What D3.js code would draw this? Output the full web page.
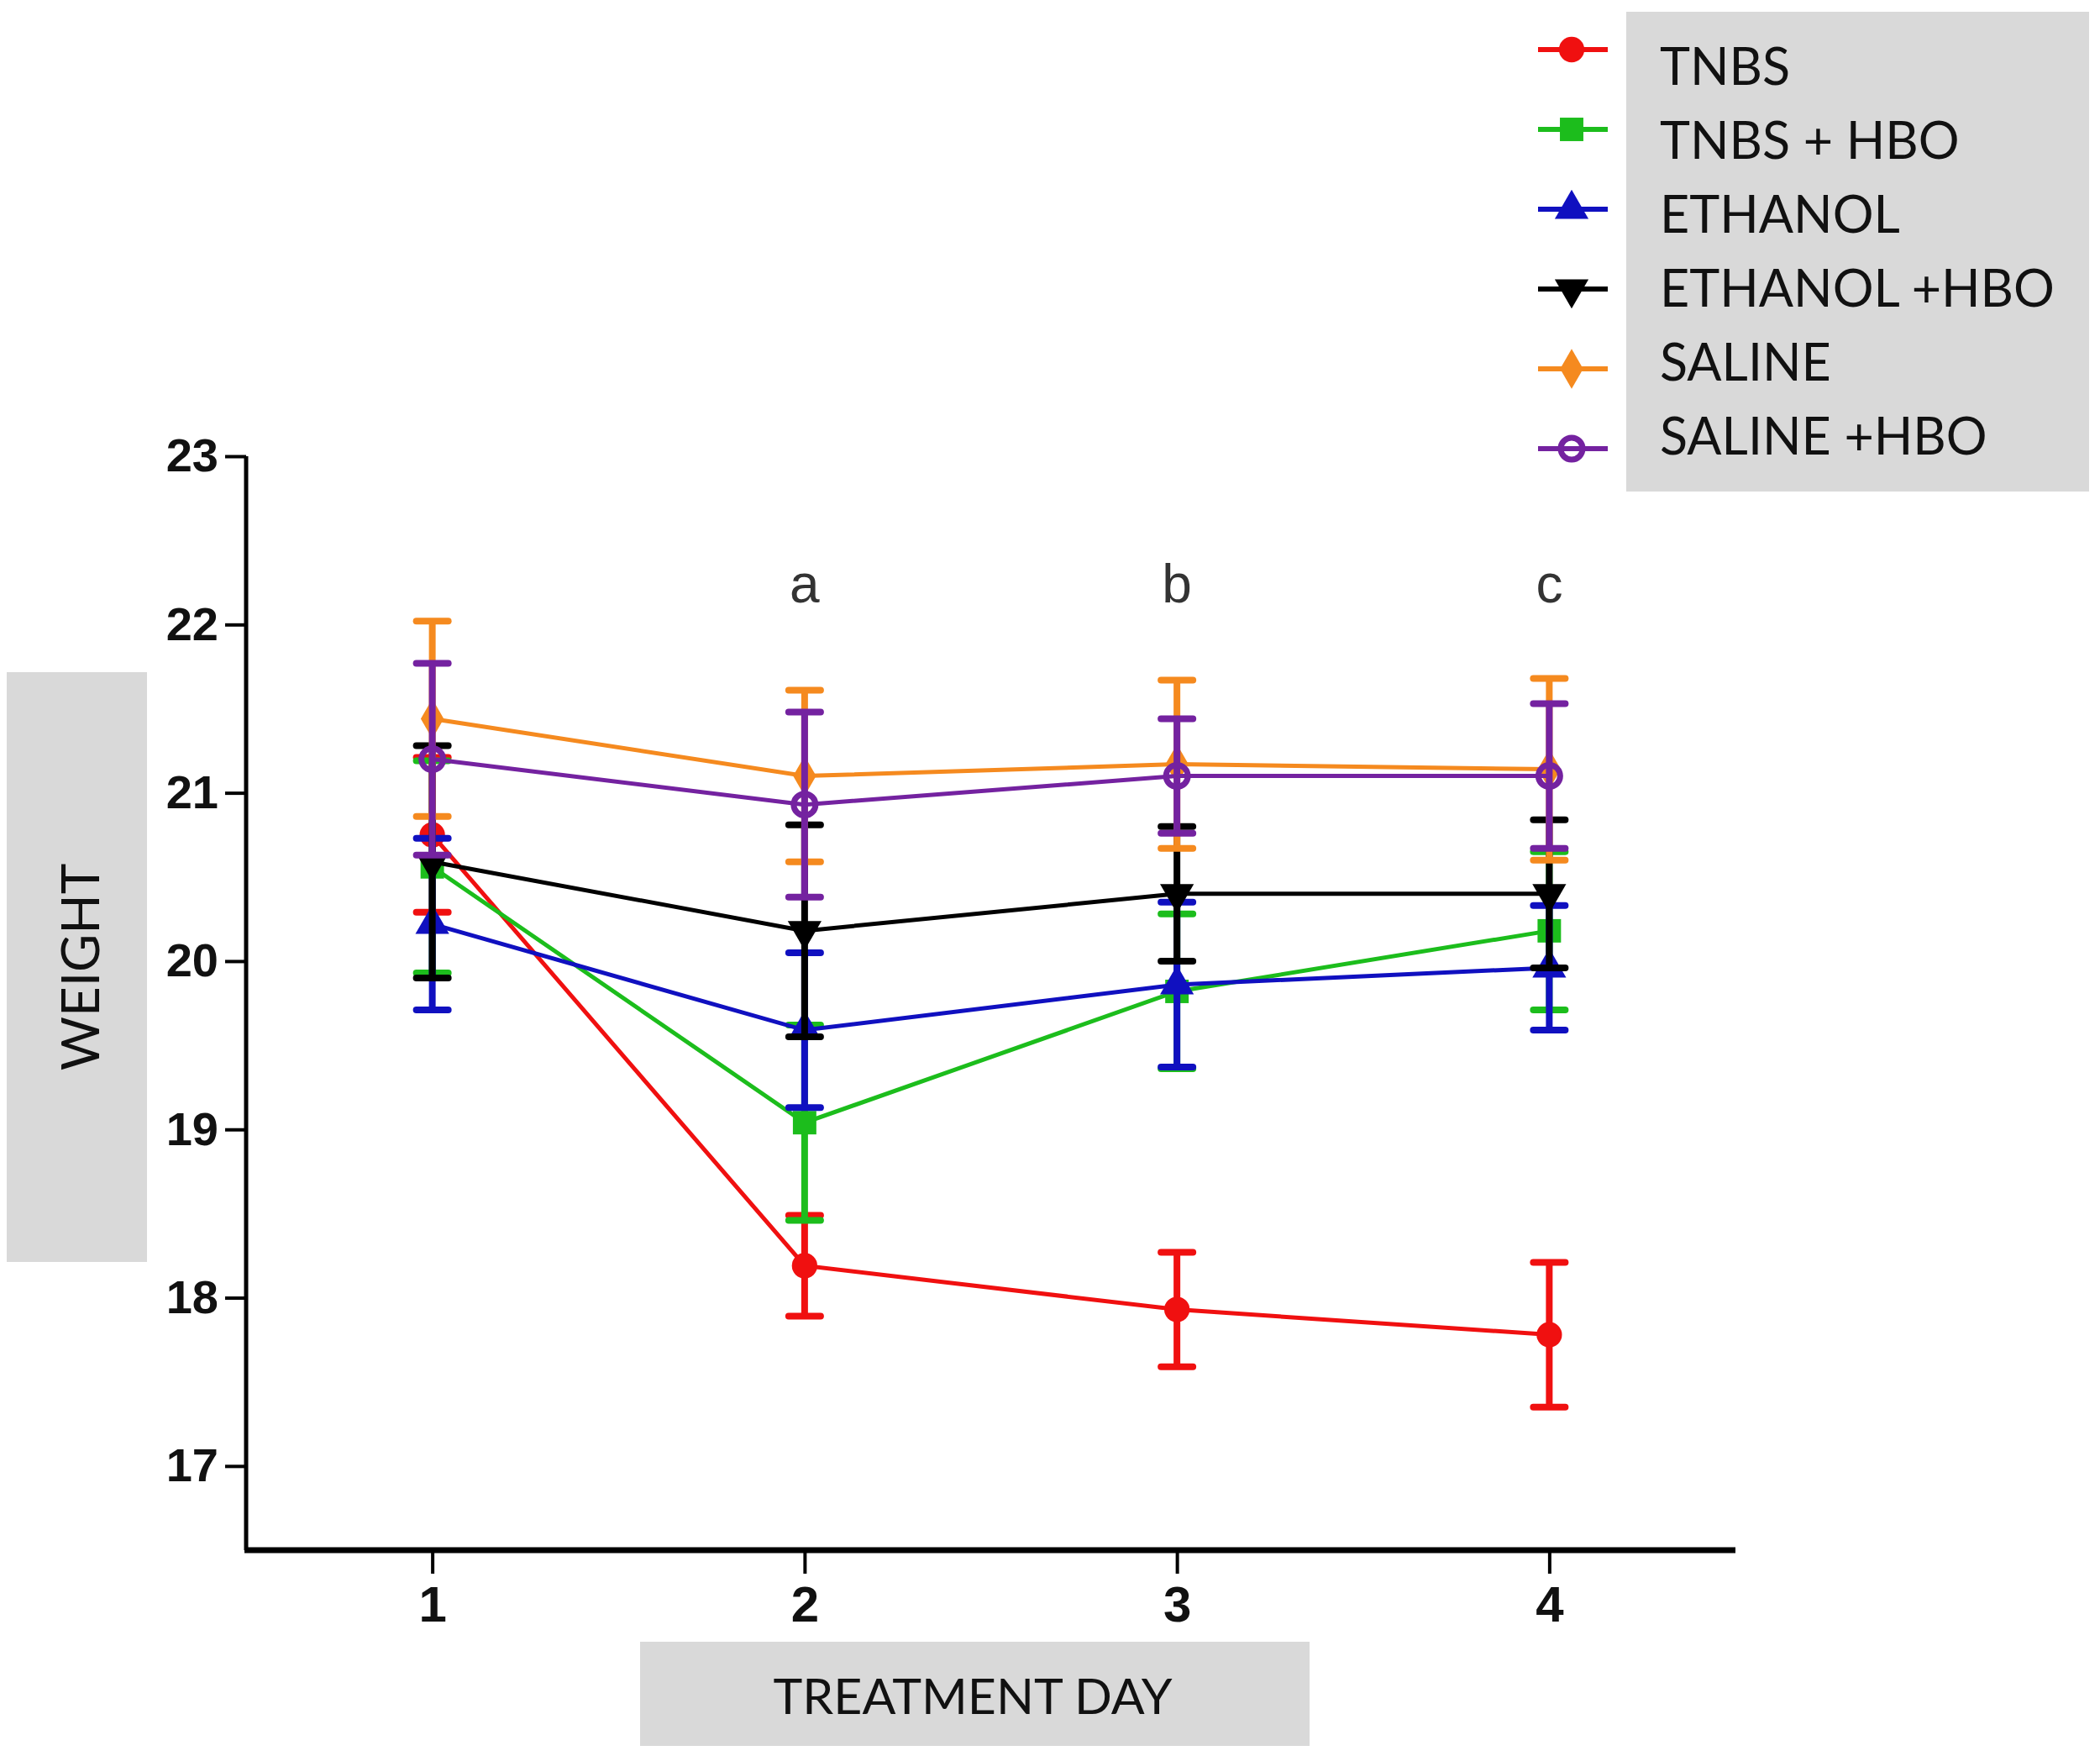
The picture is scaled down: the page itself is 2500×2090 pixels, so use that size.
<!DOCTYPE html>
<html><head><meta charset="utf-8">
<script src="https://cdn.jsdelivr.net/npm/d3@7"></script>
<style>html,body{margin:0;padding:0;background:#fff}</style>
</head><body>
<svg id="c" width="2500" height="2090"></svg>
<script>
const days = [1, 2, 3, 4];
const dayTicks = ["1", "2", "3", "4"];
const weightTicks = [17, 18, 19, 20, 21, 22, 23];
const seriesNames = ["TNBS", "TNBS + HBO", "ETHANOL", "ETHANOL +HBO", "SALINE", "SALINE +HBO"];
const tnbs        = [20.75, 18.19, 17.93, 17.78];
const tnbsErr     = [0.46, 0.30, 0.34, 0.43];
const tnbsHbo     = [20.56, 19.04, 19.82, 20.18];
const tnbsHboErr  = [0.63, 0.58, 0.46, 0.47];
const ethanol     = [20.22, 19.59, 19.86, 19.96];
const ethanolErr  = [0.51, 0.46, 0.49, 0.37];
const ethanolHbo  = [20.59, 20.18, 20.40, 20.40];
const ethanolHboErr = [0.69, 0.63, 0.40, 0.44];
const saline      = [21.44, 21.10, 21.17, 21.14];
const salineErr   = [0.58, 0.51, 0.50, 0.54];
const salineHbo   = [21.20, 20.93, 21.10, 21.10];
const salineHboErr = [0.57, 0.55, 0.34, 0.43];
const sigLetters  = ["", "a", "b", "c"];

const colors = ["#f01010", "#1cbd1c", "#1010c0", "#000000", "#f58a1f", "#7422a0"];
const shapes = ["circle", "square", "triUp", "triDown", "diamond", "openCircle"];
const values = [tnbs, tnbsHbo, ethanol, ethanolHbo, saline, salineHbo];
const errors = [tnbsErr, tnbsHboErr, ethanolErr, ethanolHboErr, salineErr, salineHboErr];

const series = seriesNames.map((n, i) => ({
  name: n, color: colors[i], shape: shapes[i],
  pts: days.map((d, j) => ({ day: d, v: values[i][j], e: errors[i][j] }))
}));

const svg = d3.select("#c");
const x = d3.scaleLinear().domain([0.5, 4.5]).range([293, 2066]);
const y = d3.scaleLinear().domain([16.5, 23]).range([1845, 543]);

// axis title boxes
svg.append("rect").attr("x", 8).attr("y", 800).attr("width", 167).attr("height", 702).attr("fill", "#d9d9d9");
svg.append("text").attr("transform", "translate(118,1151) rotate(-90)")
  .attr("text-anchor", "middle").attr("font-family", "Lato, 'Open Sans', sans-serif")
  .attr("font-size", 62).attr("fill", "#111").text("WEIGHT");
svg.append("rect").attr("x", 762).attr("y", 1954).attr("width", 797).attr("height", 124).attr("fill", "#d9d9d9");
svg.append("text").attr("x", 1158).attr("y", 2040)
  .attr("text-anchor", "middle").attr("font-family", "Lato, 'Open Sans', sans-serif")
  .attr("font-size", 59).attr("fill", "#111").text("TREATMENT DAY");

// axes
const yAxis = d3.axisLeft(y).tickValues(weightTicks).tickFormat(d3.format("d")).tickSize(25).tickPadding(8);
const gy = svg.append("g").attr("transform", "translate(293,0)").call(yAxis);
gy.select(".domain").attr("d", `M0,${y(23)}V${y(16.5)}`).attr("stroke", "#000").attr("stroke-width", 5);
gy.selectAll(".tick line").attr("stroke", "#000").attr("stroke-width", 4);
gy.selectAll(".tick text").attr("font-family", "'Liberation Sans', Arial, sans-serif")
  .attr("font-weight", "bold").attr("font-size", 56).attr("fill", "#111");

const xAxis = d3.axisBottom(x).tickValues(days).tickFormat((d, i) => dayTicks[i]).tickSize(28).tickPadding(14);
const gx = svg.append("g").attr("transform", "translate(0,1845)").call(xAxis);
gx.select(".domain").attr("d", `M${x(0.5) - 2},0H${x(4.5)}`).attr("stroke", "#000").attr("stroke-width", 7);
gx.selectAll(".tick line").attr("stroke", "#000").attr("stroke-width", 4);
gx.selectAll(".tick text").attr("font-family", "'Liberation Sans', Arial, sans-serif")
  .attr("font-weight", "bold").attr("font-size", 60).attr("fill", "#111");

// significance letters
svg.append("g").selectAll("text").data(days).join("text")
  .attr("x", d => x(d)).attr("y", 717).attr("text-anchor", "middle")
  .attr("font-family", "'Liberation Sans', Arial, sans-serif").attr("font-size", 64)
  .attr("fill", "#333").text((d, i) => sigLetters[i]);

function drawMarker(g, shape, color, cx, cy) {
  if (shape === "openCircle") {
    g.append("circle").attr("cx", cx).attr("cy", cy).attr("r", 13)
      .attr("fill", "none").attr("stroke", color).attr("stroke-width", 7);
    return;
  }
  let sym, rot = 0, size = 700;
  if (shape === "circle") { sym = d3.symbolCircle; size = 720; }
  if (shape === "square") { sym = d3.symbolSquare; size = 780; }
  if (shape === "triUp") { sym = d3.symbolTriangle; size = 700; }
  if (shape === "triDown") { sym = d3.symbolTriangle; size = 700; rot = 180; }
  if (shape === "diamond") { sym = d3.symbolDiamond; size = 650; }
  g.append("path").attr("d", d3.symbol(sym, size)())
    .attr("transform", `translate(${cx},${cy}) rotate(${rot})`).attr("fill", color);
}

const line = d3.line().x(p => x(p.day)).y(p => y(p.v));
const plot = svg.append("g");
series.forEach(s => {
  const g = plot.append("g");
  g.append("path").datum(s.pts).attr("d", line).attr("fill", "none")
    .attr("stroke", s.color).attr("stroke-width", 5);
  s.pts.forEach(p => {
    const cx = x(p.day);
    g.append("line").attr("x1", cx).attr("x2", cx).attr("y1", y(p.v - p.e)).attr("y2", y(p.v + p.e))
      .attr("stroke", s.color).attr("stroke-width", 8);
    [p.v - p.e, p.v + p.e].forEach(val => {
      g.append("line").attr("x1", cx - 19).attr("x2", cx + 19).attr("y1", y(val)).attr("y2", y(val))
        .attr("stroke", s.color).attr("stroke-width", 8).attr("stroke-linecap", "round");
    });
    drawMarker(g, s.shape, s.color, cx, y(p.v));
  });
});

// legend
svg.append("rect").attr("x", 1936).attr("y", 14).attr("width", 551).attr("height", 571).attr("fill", "#d9d9d9");
const leg = svg.append("g");
series.forEach((s, i) => {
  const my = 59 + i * 95;
  const ty = 80 + i * 88;
  const g = leg.append("g");
  g.append("line").attr("x1", 1831).attr("x2", 1914).attr("y1", my).attr("y2", my)
    .attr("stroke", s.color).attr("stroke-width", 6);
  drawMarker(g, s.shape, s.color, 1871, my);
  g.append("text").attr("x", 1976).attr("y", ty).attr("dy", "0.35em")
    .attr("font-family", "Lato, 'Open Sans', sans-serif").attr("font-size", 61)
    .attr("fill", "#111").text(s.name);
});
</script>
</body></html>
